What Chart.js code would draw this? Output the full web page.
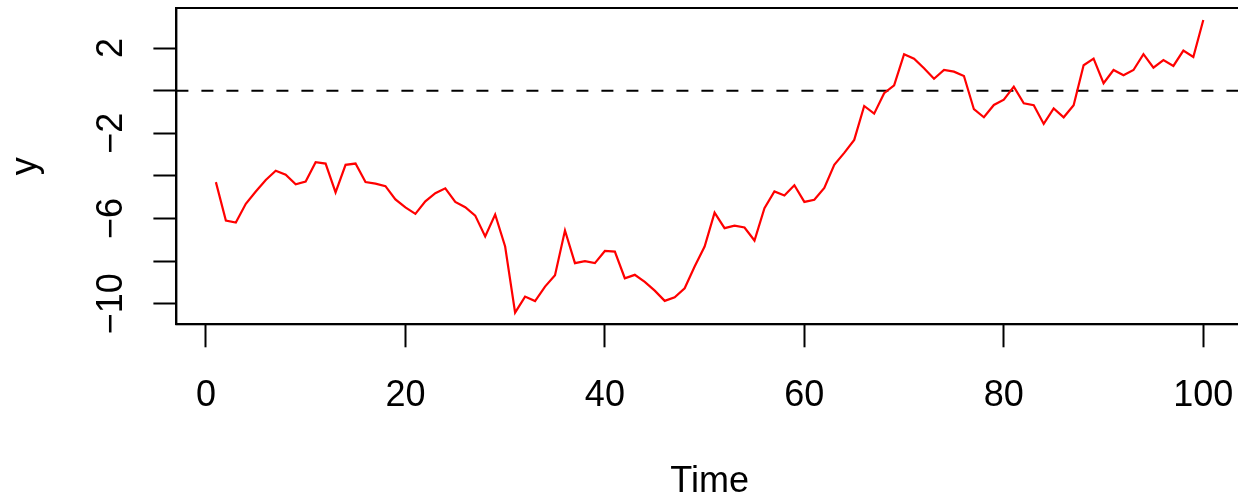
<!DOCTYPE html>
<html>
<head>
<meta charset="utf-8">
<script src="https://cdn.jsdelivr.net/npm/chart.js@4"></script>
<style>
  html, body { margin: 0; padding: 0; background: #fff; overflow: hidden; }
  #wrap { width: 1250px; height: 500px; }
</style>
</head>
<body>
<div id="wrap"><canvas id="myChart" width="1250" height="500"></canvas></div>
<script>
// random walk series
var yValues = [
  -4.29, -6.09, -6.19, -5.31, -4.73, -4.19, -3.76, -3.94, -4.39, -4.26,
  -3.36, -3.42, -4.77, -3.48, -3.42, -4.29, -4.36, -4.48, -5.10, -5.48,
  -5.78, -5.19, -4.81, -4.58, -5.22, -5.47, -5.86, -6.84, -5.81, -7.31,
  -10.41, -9.66, -9.87, -9.19, -8.66, -6.56, -8.09, -8.00, -8.09, -7.52,
  -7.55, -8.80, -8.64, -8.97, -9.38, -9.86, -9.69, -9.27, -8.25, -7.31,
  -5.72, -6.45, -6.33, -6.42, -7.03, -5.51, -4.73, -4.92, -4.44, -5.22,
  -5.12, -4.56, -3.48, -2.92, -2.31, -0.72, -1.08, -0.12, 0.25, 1.71,
  1.50, 1.05, 0.56, 0.97, 0.89, 0.69, -0.87, -1.25, -0.67, -0.42,
  0.19, -0.59, -0.68, -1.56, -0.83, -1.25, -0.68, 1.19, 1.50, 0.35,
  0.97, 0.72, 0.97, 1.71, 1.08, 1.43, 1.16, 1.88, 1.58, 3.31
];
var timeIdx = yValues.map(function (v, i) { return i + 1; });
var xTicks = [0, 20, 40, 60, 80, 100];
var yTicks = [-10, -8, -6, -4, -2, 0, 2];
var yLabelled = [-10, -6, -2, 2];
var refLevel = 0;

var FONT = { family: '"Liberation Sans", Arial, Helvetica, sans-serif', size: 36 };

// box around the plot region + dashed h-line at refLevel
const boxPlugin = {
    id: 'rbox',
    beforeDatasetsDraw: function (chart) {
        const ctx = chart.ctx;
        const a = chart.chartArea;
        const yPix = chart.scales.y.getPixelForValue(refLevel);
        ctx.save();
        ctx.strokeStyle = '#000';
        ctx.lineWidth = 2;
        ctx.setLineDash([12, 13]);
        ctx.beginPath();
        ctx.moveTo(a.left, yPix);
        ctx.lineTo(a.right, yPix);
        ctx.stroke();
        ctx.restore();
    },
    afterDraw: function (chart) {
        const ctx = chart.ctx;
        const a = chart.chartArea;
        ctx.save();
        ctx.strokeStyle = '#000';
        ctx.lineWidth = 2;
        ctx.strokeRect(a.left, a.top, a.right - a.left, a.bottom - a.top);
        ctx.restore();
    }
};

// fixed axis sizes, no label overhang padding
function fixSize(w, h) {
    return function (s) {
        if (w != null) s.width = w;
        if (h != null) s.height = h;
        s.paddingLeft = 0; s.paddingRight = 0; s.paddingTop = 0; s.paddingBottom = 0;
    };
}

const data = {
    datasets: [{
        label: 'y',
        data: timeIdx.map(function (t, i) { return { x: t, y: yValues[i] }; }),
        borderColor: '#ff0000',
        borderWidth: 2.2,
        pointRadius: 0,
        tension: 0,
        fill: false
    }]
};

const config = {
    type: 'line',
    data: data,
    plugins: [boxPlugin],
    options: {
        responsive: false,
        animation: false,
        layout: { padding: { left: 0, top: 8, right: 7.2, bottom: 0 } },
        plugins: { legend: { display: false }, tooltip: { enabled: false } },
        scales: {
            x: {
                type: 'linear',
                min: -2.96,
                max: 103.96,
                afterBuildTicks: function (s) { s.ticks = xTicks.map(function (v) { return { value: v }; }); },
                afterFit: fixSize(null, 175.7),
                grid: { display: true, drawOnChartArea: false, drawTicks: true, tickLength: 23, tickWidth: 2, tickColor: '#000' },
                border: { display: true, color: '#000', width: 2 },
                ticks: { color: '#000', font: FONT, padding: 27, maxRotation: 0, autoSkip: false },
                title: { display: true, text: 'Time', color: '#000', font: { family: FONT.family, size: 36, lineHeight: 1 }, padding: { top: 0, bottom: 0 } }
            },
            y: {
                type: 'linear',
                min: -10.96,
                max: 3.877,
                afterBuildTicks: function (s) { s.ticks = yTicks.map(function (v) { return { value: v }; }); },
                afterFit: fixSize(176.4, null),
                grid: { display: true, drawOnChartArea: false, drawTicks: true, tickLength: 23, tickWidth: 2, tickColor: '#000' },
                border: { display: true, color: '#000', width: 2 },
                ticks: {
                    color: '#000', font: FONT, padding: 11, minRotation: 90, maxRotation: 90,
                    crossAlign: 'center', autoSkip: false,
                    callback: function (v) {
                        if (yLabelled.indexOf(v) < 0) return '';
                        return v < 0 ? '\u2212' + Math.abs(v) : String(v);
                    }
                },
                title: { display: true, text: 'y', color: '#000', font: { family: FONT.family, size: 36, lineHeight: 1 }, padding: { top: 8, bottom: 0 } }
            }
        }
    }
};

const myChart = new Chart(document.getElementById('myChart'), config);
</script>
</body>
</html>
